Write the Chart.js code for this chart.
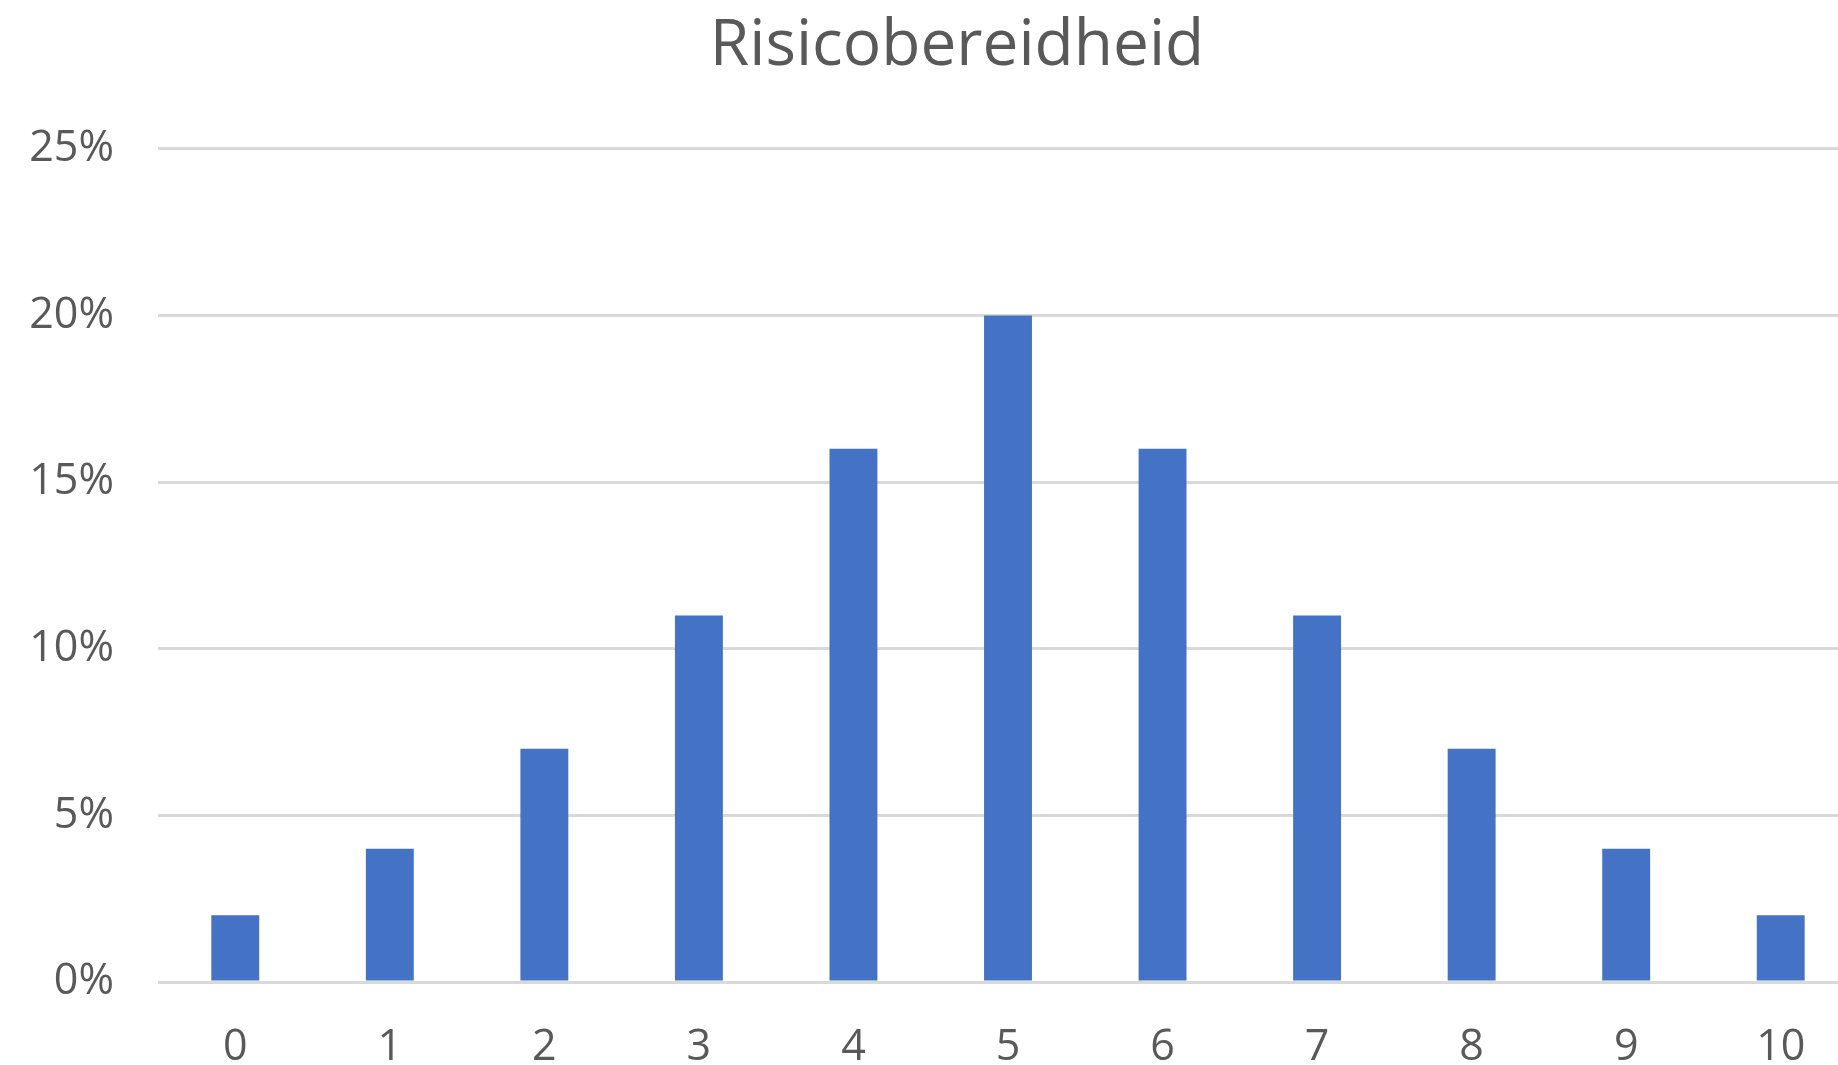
<!DOCTYPE html>
<html>
<head>
<meta charset="utf-8">
<script src="https://cdn.jsdelivr.net/npm/chart.js@4/dist/chart.umd.min.js"></script>
<style>
  html, body { margin: 0; padding: 0; background: #fff; overflow: hidden; }
  #wrap { width: 1914px; height: 1065px; }
</style>
</head>
<body>
<div id="wrap"><canvas id="myChart"></canvas></div>
<script>
const labels = ['0', '1', '2', '3', '4', '5', '6', '7', '8', '9', '10'];
const values = [2, 4, 7, 11, 16, 20, 16, 11, 7, 4, 2];
const yTicks = [0, 5, 10, 15, 20, 25];

const textColor = '#595959';
const fontFamily = "'Open Sans', 'Noto Sans', sans-serif";
const rightPad = 56;

const data = {
  labels: labels,
  datasets: [{
    label: 'Risicobereidheid',
    data: values,
    backgroundColor: '#4472C4',
    borderWidth: 0,
    barPercentage: 0.31,
    categoryPercentage: 1
  }]
};

// the original chart is cut off on the right, title is centred on the full width
const widenTitle = {
  id: 'widenTitle',
  afterLayout(chart) {
    const t = chart.titleBlock;
    if (t) { t.right += rightPad; t.width += rightPad; }
  }
};

// config
const config = {
  type: 'bar',
  data,
  plugins: [widenTitle],
  options: {
    responsive: true,
    maintainAspectRatio: false,
    animation: false,
    layout: { padding: { left: 0, right: rightPad, top: 0, bottom: 0 } },
    plugins: {
      legend: { display: false },
      tooltip: { enabled: false },
      title: {
        display: true,
        text: 'Risicobereidheid',
        color: textColor,
        font: { family: fontFamily, size: 64, weight: 'normal', lineHeight: 1.2 },
        padding: { top: 8, bottom: 64 }
      }
    },
    scales: {
      x: {
        grid: { display: false, drawTicks: false },
        border: { display: false },
        ticks: {
          color: textColor,
          font: { family: fontFamily, size: 43 },
          padding: 40,
          maxRotation: 0
        },
        afterFit: (axis) => { axis.height = 83; }
      },
      y: {
        min: 0,
        max: 25,
        afterBuildTicks: (axis) => { axis.ticks = yTicks.map(v => ({ value: v })); },
        grid: { color: '#d9d9d9', lineWidth: 3, drawTicks: false },
        border: { display: false },
        ticks: {
          color: textColor,
          font: { family: fontFamily, size: 43 },
          padding: 44,
          callback: (v) => v + '%'
        },
        afterFit: (axis) => { axis.width = 158; }
      }
    }
  }
};

// render init block
const myChart = new Chart(
  document.getElementById('myChart'),
  config
);
</script>
</body>
</html>
